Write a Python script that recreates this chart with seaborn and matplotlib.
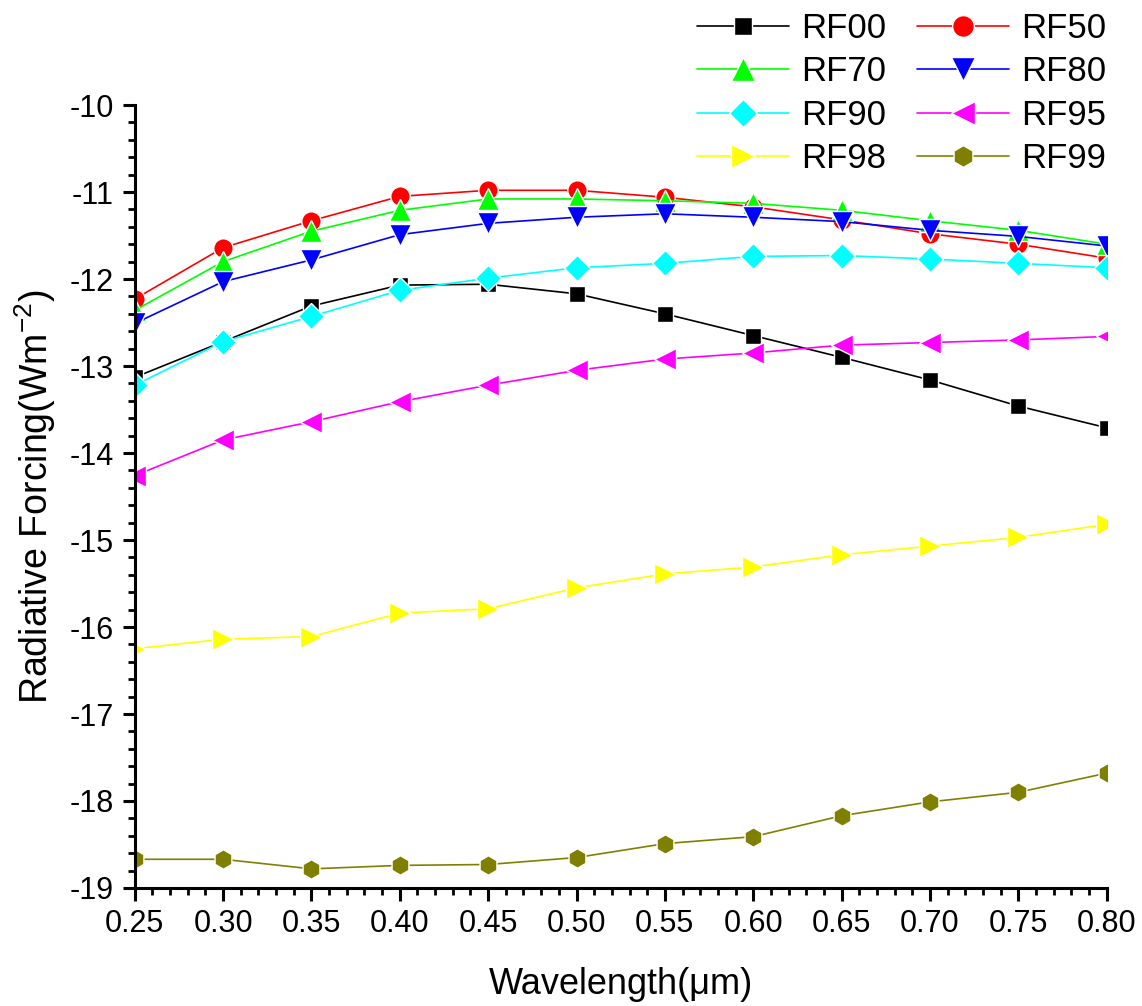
import numpy as np
import pandas as pd
import matplotlib
matplotlib.use("Agg")
import matplotlib.pyplot as plt
from matplotlib.ticker import MultipleLocator, FormatStrFormatter
import seaborn as sns

sns.set_theme(style="ticks")
plt.rcParams["font.family"] = ["Liberation Sans", "DejaVu Sans"]
plt.rcParams["mathtext.fontset"] = "custom"
plt.rcParams["mathtext.rm"] = "Liberation Sans"
plt.rcParams["mathtext.it"] = "Liberation Sans"
plt.rcParams["axes.unicode_minus"] = False
plt.rcParams["text.color"] = "black"
plt.rcParams["axes.labelcolor"] = "black"

# Wavelength grid (micrometres)
wavelength = [0.25, 0.30, 0.35, 0.40, 0.45, 0.50, 0.55, 0.60, 0.65, 0.70, 0.75, 0.80]

# Radiative forcing (W m^-2) for each relative-humidity case
rf00 = [-13.13, -12.72, -12.31, -12.07, -12.06, -12.17, -12.40, -12.65, -12.90, -13.16, -13.46, -13.71]
rf50 = [-12.23, -11.64, -11.33, -11.05, -10.98, -10.98, -11.06, -11.17, -11.32, -11.48, -11.60, -11.76]
rf70 = [-12.36, -11.80, -11.45, -11.21, -11.08, -11.08, -11.10, -11.13, -11.21, -11.33, -11.44, -11.60]
rf80 = [-12.51, -12.03, -11.78, -11.49, -11.36, -11.29, -11.25, -11.29, -11.34, -11.44, -11.51, -11.62]
rf90 = [-13.22, -12.72, -12.43, -12.13, -11.99, -11.87, -11.82, -11.74, -11.73, -11.77, -11.82, -11.87]
rf95 = [-14.26, -13.85, -13.64, -13.41, -13.22, -13.05, -12.92, -12.85, -12.76, -12.73, -12.70, -12.66]
rf98 = [-16.25, -16.14, -16.11, -15.84, -15.79, -15.55, -15.39, -15.31, -15.17, -15.07, -14.97, -14.82]
rf99 = [-18.67, -18.67, -18.78, -18.74, -18.73, -18.65, -18.49, -18.41, -18.17, -18.01, -17.90, -17.68]

labels = ["RF00", "RF50", "RF70", "RF80", "RF90", "RF95", "RF98", "RF99"]
series = [rf00, rf50, rf70, rf80, rf90, rf95, rf98, rf99]
colors = ["#000000", "#FF0000", "#00FF00", "#0000FF", "#00FFFF", "#FF00FF", "#FFFF00", "#808000"]
markers = ["s", "o", "^", "v", "D", "<", ">", "h"]
msizes = [12, 14, 16, 16, 13, 16, 16, 14]

fig = plt.figure(figsize=(11.42, 10.06), dpi=100)
ax = fig.add_axes([0.118, 0.1173, 0.851, 0.7783])

for lab, vals, col, mk, ms in zip(labels, series, colors, markers, msizes):
    df = pd.DataFrame({"wavelength": wavelength, "rf": vals})
    sns.lineplot(data=df, x="wavelength", y="rf", ax=ax, color=col, marker=mk,
                 markersize=ms, markeredgecolor="white", markeredgewidth=1.0,
                 linewidth=1.2, label=lab, legend=False)

ax.set_xlim(0.25, 0.80)
ax.set_ylim(-19, -10)
ax.xaxis.set_major_locator(MultipleLocator(0.05))
ax.xaxis.set_minor_locator(MultipleLocator(0.01))
ax.xaxis.set_major_formatter(FormatStrFormatter("%.2f"))
ax.yaxis.set_major_locator(MultipleLocator(1))
ax.yaxis.set_minor_locator(MultipleLocator(0.2))

for side in ("top", "right"):
    ax.spines[side].set_visible(False)
for side in ("left", "bottom"):
    ax.spines[side].set_linewidth(2.2)
    ax.spines[side].set_color("black")

ax.tick_params(axis="both", which="major", direction="out", length=9, width=2.2,
               labelsize=22, colors="black", pad=6)
ax.tick_params(axis="both", which="minor", direction="out", length=5, width=2.0,
               colors="black")

ax.set_xlabel("Wavelength(\u03bcm)", fontsize=26, labelpad=20)
ax.set_ylabel("Radiative Forcing(Wm$^{-2}$)", fontsize=27, labelpad=8)

# two-column legend filled row by row
handles, lbls = ax.get_legend_handles_labels()
order = [0, 2, 4, 6, 1, 3, 5, 7]
leg = fig.legend([handles[i] for i in order], [lbls[i] for i in order], ncol=2,
                 loc="upper right", bbox_to_anchor=(0.975, 0.995), frameon=False,
                 fontsize=25, handlelength=2.65, handletextpad=0.35,
                 columnspacing=0.9, labelspacing=0.3, borderaxespad=0.0,
                 borderpad=0.2, markerscale=1.12)

fig.savefig("out.png", dpi=100, facecolor="white")
